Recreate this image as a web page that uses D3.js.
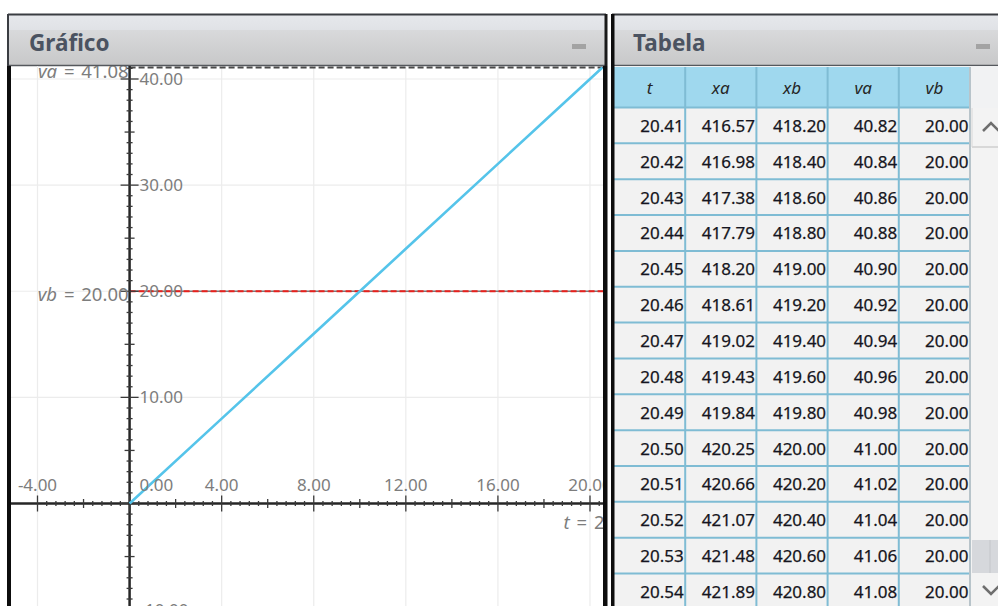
<!DOCTYPE html>
<html><head><meta charset="utf-8">
<script src="https://cdn.jsdelivr.net/npm/d3@7"></script>
<style>
html,body{margin:0;padding:0;background:#fff;overflow:hidden;}
svg{display:block;}
</style></head>
<body>
<svg id="c" width="998" height="606"></svg>
<script>
// ---- data ----
const lineT  = [0, 4, 8, 12, 16, 20, 20.54];
const lineVa = [0, 8, 16, 24, 32, 40, 41.08];
const vbValue = 20.00;
const vaCurrent = 41.08;
const tCurrent = 20.54;
const xTicks = [-4, 0, 4, 8, 12, 16, 20];
const yTicks = [-10, 10, 20, 30, 40];

const columns = ["t", "xa", "xb", "va", "vb"];
const colT  = [20.41,20.42,20.43,20.44,20.45,20.46,20.47,20.48,20.49,20.50,20.51,20.52,20.53,20.54];
const colXa = [416.57,416.98,417.38,417.79,418.20,418.61,419.02,419.43,419.84,420.25,420.66,421.07,421.48,421.89];
const colXb = [418.20,418.40,418.60,418.80,419.00,419.20,419.40,419.60,419.80,420.00,420.20,420.40,420.60,420.80];
const colVa = [40.82,40.84,40.86,40.88,40.90,40.92,40.94,40.96,40.98,41.00,41.02,41.04,41.06,41.08];
const colVb = [20.00,20.00,20.00,20.00,20.00,20.00,20.00,20.00,20.00,20.00,20.00,20.00,20.00,20.00];

const fmt = v => d3.format(".2f")(v).replace("\u2212", "-");

const svg = d3.select("#c");
const defs = svg.append("defs");
const g1 = defs.append("linearGradient").attr("id","hdr").attr("x1",0).attr("y1",0).attr("x2",0).attr("y2",1);
g1.append("stop").attr("offset","0%").attr("stop-color","#e6e8ec");
g1.append("stop").attr("offset","30%").attr("stop-color","#e0e2e6");
g1.append("stop").attr("offset","31%").attr("stop-color","#d8d9db");
g1.append("stop").attr("offset","100%").attr("stop-color","#c8c8c9");
defs.append("clipPath").attr("id","plotclip").append("rect")
  .attr("x",11).attr("y",66).attr("width",592).attr("height",545);

const FONT = "'Noto Sans', 'Open Sans', sans-serif";

// ---------------- Graph panel ----------------
function header(x, w, title){
  svg.append("rect").attr("x",x).attr("y",15).attr("width",w).attr("height",50).attr("fill","url(#hdr)");
  svg.append("line").attr("x1",x-1).attr("x2",x+w).attr("y1",14.5).attr("y2",14.5).attr("stroke","#3a3d42").attr("stroke-width",2);
  svg.append("line").attr("x1",x-1).attr("x2",x+w).attr("y1",65.5).attr("y2",65.5).attr("stroke","#55585d").attr("stroke-width",1.5);
  svg.append("text").attr("x",x+20).attr("y",51).attr("font-family",FONT).attr("font-weight","bold")
    .attr("font-size",22.5).attr("fill","#4b5361").text(title);
}
header(9, 597, "Gráfico");
svg.append("rect").attr("x",572).attr("y",44).attr("width",14).attr("height",5).attr("fill","#a3a3a3");

const x = d3.scaleLinear().domain([-4, 20]).range([37.5, 590]);
const y = d3.scaleLinear().domain([0, 40]).range([503.5, 79]);

const plot = svg.append("g").attr("clip-path","url(#plotclip)");
// grid
plot.selectAll(".gx").data(xTicks.filter(d=>d!==0)).enter().append("line")
  .attr("x1",d=>x(d)).attr("x2",d=>x(d)).attr("y1",66).attr("y2",606)
  .attr("stroke","#ececec").attr("stroke-width",1.2);
plot.selectAll(".gy").data(yTicks).enter().append("line")
  .attr("x1",11).attr("x2",603).attr("y1",d=>y(d)).attr("y2",d=>y(d))
  .attr("stroke","#ececec").attr("stroke-width",1.2);

// reference dashed lines
plot.append("line").attr("x1",x(0)).attr("x2",603).attr("y1",y(vaCurrent)).attr("y2",y(vaCurrent))
  .attr("stroke","#4a4a4a").attr("stroke-width",2).attr("stroke-dasharray","6,3");
plot.append("line").attr("x1",x(0)).attr("x2",603).attr("y1",y(vbValue)).attr("y2",y(vbValue))
  .attr("stroke","#7a7a7a").attr("stroke-width",1.6);
plot.append("line").attr("x1",x(0)).attr("x2",603).attr("y1",y(vbValue)).attr("y2",y(vbValue))
  .attr("stroke","#e8201c").attr("stroke-width",2).attr("stroke-dasharray","6,3");

// axes
const ax = plot.append("g");
ax.append("line").attr("x1",11).attr("x2",603).attr("y1",y(0)).attr("y2",y(0)).attr("stroke","#262626").attr("stroke-width",2.5);
ax.append("line").attr("x1",x(0)).attr("x2",x(0)).attr("y1",66).attr("y2",606).attr("stroke","#262626").attr("stroke-width",2.5);
// x ticks every 0.4
const xMinor = d3.range(-40, 211, 4).map(v=>v/10).filter(v=>v>=-4.4 && v<=20.6);
ax.selectAll(".xt").data(xMinor).enter().append("line")
  .attr("x1",d=>x(d)).attr("x2",d=>x(d))
  .attr("y1",d=>{const k=Math.round(d*10); return y(0)-(k%40===0?8:(k%20===0?4.5:2.5));})
  .attr("y2",d=>{const k=Math.round(d*10); return y(0)+(k%40===0?8:(k%20===0?4.5:2.5));})
  .attr("stroke","#3a3a3a").attr("stroke-width",1.3);
// y ticks every 1
const yMinor = d3.range(-12, 44, 1);
ax.selectAll(".yt").data(yMinor).enter().append("line")
  .attr("y1",d=>y(d)).attr("y2",d=>y(d))
  .attr("x1",d=>x(0)-(d%10===0?9:(d%5===0?5:3)))
  .attr("x2",d=>x(0)+(d%10===0?9:(d%5===0?5:3)))
  .attr("stroke","#3a3a3a").attr("stroke-width",1.3);

// va line
plot.append("path").datum(lineT.map((t,i)=>[t, lineVa[i]]))
  .attr("d", d3.line().x(d=>x(d[0])).y(d=>y(d[1])))
  .attr("fill","none").attr("stroke","#55c4ea").attr("stroke-width",2.6);

// labels
const lab = plot.append("g").attr("font-family",FONT).attr("font-size",17).attr("fill","#7d7d7d");
lab.selectAll(".xl").data(xTicks).enter().append("text")
  .attr("x",d=> d===0 ? x(0)+10 : x(d)).attr("y",y(0)-13)
  .attr("text-anchor",d=> d===0 ? "start" : "middle")
  .text(d=>fmt(d));
lab.selectAll(".yl").data(yTicks).enter().append("text")
  .attr("x",x(0)+10).attr("y",d=>y(d)+6)
  .text(d=>fmt(d));
function refLabel(sel, name, val){
  sel.attr("font-size",18.5).attr("word-spacing",2);
  sel.append("tspan").attr("font-style","italic").text(name);
  sel.append("tspan").text(" = " + fmt(val));
}
refLabel(lab.append("text").attr("x",x(0)-1).attr("y",y(vaCurrent)+10).attr("text-anchor","end"), "va", vaCurrent);
refLabel(lab.append("text").attr("x",x(0)-1).attr("y",y(vbValue)+10).attr("text-anchor","end"), "vb", vbValue);
refLabel(lab.append("text").attr("x",x(tCurrent)).attr("y",y(0)+25).attr("text-anchor","middle"), "t", tCurrent);

// graph panel borders
svg.append("rect").attr("x",7).attr("y",66).attr("width",4).attr("height",540).attr("fill","#0d0d0d");
svg.append("rect").attr("x",603).attr("y",66).attr("width",4.5).attr("height",540).attr("fill","#0d0d0d");
svg.append("line").attr("x1",8).attr("x2",8).attr("y1",14).attr("y2",66).attr("stroke","#3a3d42").attr("stroke-width",2);
svg.append("line").attr("x1",606).attr("x2",606).attr("y1",14).attr("y2",66).attr("stroke","#1a1a1a").attr("stroke-width",3);

// ---------------- Table panel ----------------
header(613, 390, "Tabela");
svg.append("rect").attr("x",976).attr("y",44).attr("width",14).attr("height",5).attr("fill","#a3a3a3");
svg.append("rect").attr("x",614).attr("y",66).attr("width",384).attr("height",540).attr("fill","#f1f2f3");

const cx = d3.scaleBand().domain(columns).range([614, 970]);
const rowsIdx = d3.range(colT.length);
const ry = d3.scaleBand().domain(rowsIdx).range([107.5, 107.5 + 35.85*colT.length]);
const tableCols = [colT, colXa, colXb, colVa, colVb];

const tbl = svg.append("g");
// header row
tbl.append("rect").attr("x",614).attr("y",67).attr("width",356).attr("height",40.5).attr("fill","#9fd8ee");
tbl.selectAll(".hc").data(columns).enter().append("text")
  .attr("x",d=>cx(d)+cx.bandwidth()/2).attr("y",94)
  .attr("text-anchor","middle").attr("font-family",FONT).attr("font-style","italic")
  .attr("font-size",17).attr("fill","#262626").text(d=>d);
// body
tbl.append("rect").attr("x",614).attr("y",107.5).attr("width",356).attr("height",500).attr("fill","#f2f2f2");
// row lines
tbl.selectAll(".rl").data(rowsIdx).enter().append("line")
  .attr("x1",614).attr("x2",970).attr("y1",d=>ry(d)).attr("y2",d=>ry(d))
  .attr("stroke","#7fbcd4").attr("stroke-width",2);
// column lines
tbl.selectAll(".cl").data(columns.slice(1).concat(["end"])).enter().append("line")
  .attr("x1",d=> d==="end" ? 970 : cx(d)).attr("x2",d=> d==="end" ? 970 : cx(d))
  .attr("y1",67).attr("y2",606)
  .attr("stroke",d=> d==="end" ? "#b8c4ca" : "#7fbcd4").attr("stroke-width",2);
// cell text
columns.forEach((c, ci) => {
  tbl.selectAll(".cell"+ci).data(tableCols[ci]).enter().append("text")
    .attr("x", cx(c)+cx.bandwidth()-1.5)
    .attr("y",(d,i)=>ry(i)+ry.bandwidth()/2+6.5)
    .attr("text-anchor","end").attr("font-family",FONT).attr("font-size",17)
    .attr("fill","#151520").attr("stroke","#151520").attr("stroke-width",0.25)
    .text(d=>fmt(d));
});

// scrollbar
const sb = svg.append("g");
sb.append("rect").attr("x",971).attr("y",108).attr("width",27).attr("height",498).attr("fill","#f3f3f3");
sb.append("line").attr("x1",972).attr("x2",998).attr("y1",147).attr("y2",147).attr("stroke","#cfcfcf").attr("stroke-width",1.5);
sb.append("line").attr("x1",972).attr("x2",972).attr("y1",108).attr("y2",147).attr("stroke","#d8d8d8").attr("stroke-width",1);
sb.append("path").attr("d","M983,131 L991,123 L999,131").attr("fill","none").attr("stroke","#6e6e6e").attr("stroke-width",2.5);
sb.append("rect").attr("x",972).attr("y",540).attr("width",26).attr("height",33).attr("fill","#d6d8dc");
sb.append("line").attr("x1",990).attr("x2",990).attr("y1",540).attr("y2",573).attr("stroke","#c4c6ca").attr("stroke-width",1);
sb.append("path").attr("d","M983,586 L991,594 L999,586").attr("fill","none").attr("stroke","#6e6e6e").attr("stroke-width",2.5);

// table panel left border
svg.append("rect").attr("x",611).attr("y",14).attr("width",3.5).attr("height",592).attr("fill","#0d0d0d");
</script>
</body></html>
